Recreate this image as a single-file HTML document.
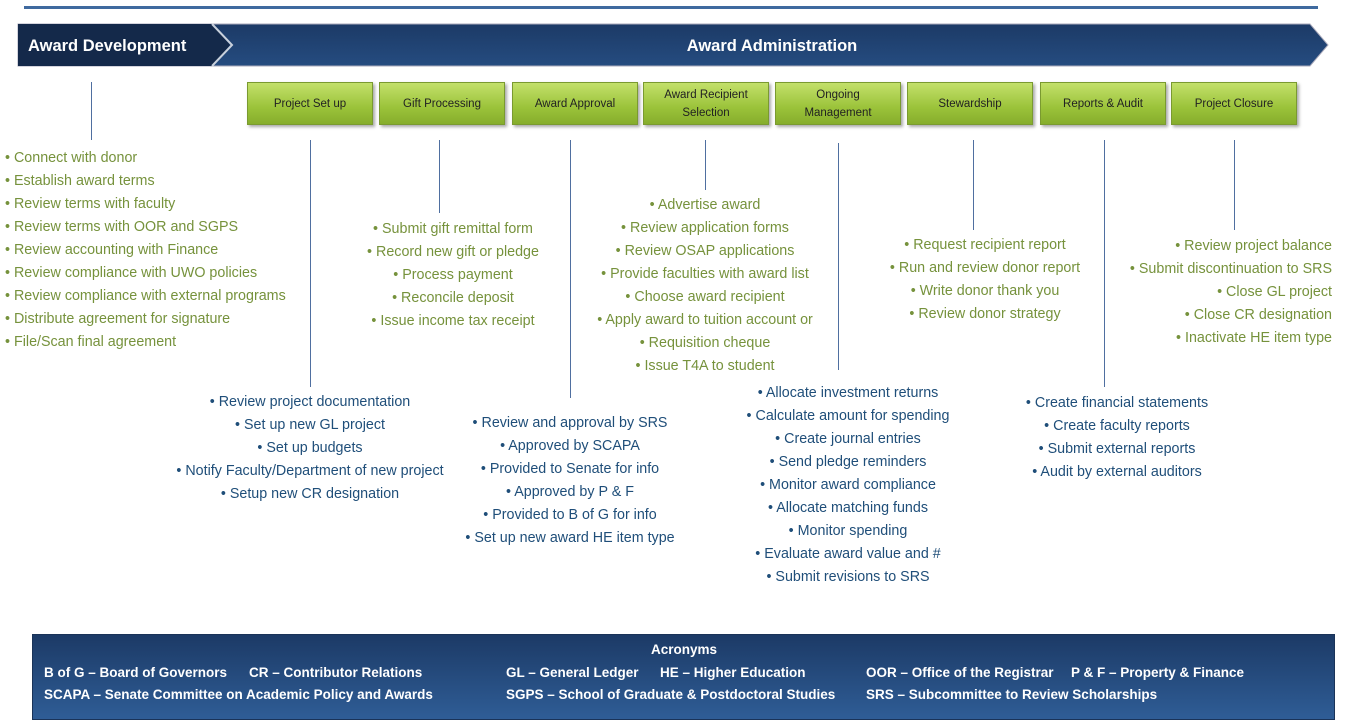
<!DOCTYPE html>
<html><head><meta charset="utf-8">
<style>
body{margin:0;width:1352px;height:727px;background:#fff;position:relative;overflow:hidden;font-family:"Liberation Sans",sans-serif}
.a{position:absolute}
.l{position:absolute;font-size:14.3px;line-height:23px;white-space:nowrap}
.g{color:#76923c}.b{color:#1f4e79}
.c{text-align:center;width:380px}
.box{position:absolute;top:82px;width:124px;height:41px;background:linear-gradient(#c3e06a,#9bc33a 60%,#86ad2c);border:1px solid #7a9a30;box-shadow:2px 2px 3px rgba(0,0,0,.35);font-size:11.5px;color:#222;display:flex;align-items:center;justify-content:center;text-align:center;line-height:18px}
.v{position:absolute;width:1px;background:#4f6fa0}
.ft{position:absolute;color:#fff;font-weight:bold;font-size:13.5px;white-space:nowrap}
</style></head><body>
<div class="a" style="left:24px;top:6px;width:1294px;height:3px;background:#3f6a9f"></div>
<svg class="a" style="left:0;top:0" width="1352" height="80">
<defs><linearGradient id="h" x1="0" y1="0" x2="0" y2="1"><stop offset="0" stop-color="#1c3a66"/><stop offset="1" stop-color="#254c80"/></linearGradient></defs>
<polygon points="18,24 1310,24 1328,45 1310,66 18,66" fill="url(#h)" stroke="#aab" stroke-width="1"/>
<polygon points="18,24 212,24 230,45 212,66 18,66" fill="#14294a"/>
<polyline points="212,24 232,45 212,66" fill="none" stroke="#c8d0dc" stroke-width="2"/>
<text x="28" y="51" fill="#fff" font-weight="bold" font-size="16.5" font-family="Liberation Sans">Award Development</text>
<text x="772" y="51" fill="#fff" font-weight="bold" font-size="16.5" text-anchor="middle" font-family="Liberation Sans">Award Administration</text>
</svg>
<div class="box" style="left:247px">Project Set up</div>
<div class="box" style="left:379px">Gift Processing</div>
<div class="box" style="left:512px">Award Approval</div>
<div class="box" style="left:643px">Award Recipient<br>Selection</div>
<div class="box" style="left:775px">Ongoing<br>Management</div>
<div class="box" style="left:907px">Stewardship</div>
<div class="box" style="left:1040px">Reports &amp; Audit</div>
<div class="box" style="left:1171px">Project Closure</div>

<div class="v" style="left:91px;top:82px;height:58px"></div>
<div class="v" style="left:310px;top:140px;height:247px"></div>
<div class="v" style="left:439px;top:140px;height:73px"></div>
<div class="v" style="left:570px;top:140px;height:258px"></div>
<div class="v" style="left:705px;top:140px;height:50px"></div>
<div class="v" style="left:838px;top:143px;height:227px"></div>
<div class="v" style="left:973px;top:140px;height:90px"></div>
<div class="v" style="left:1104px;top:140px;height:247px"></div>
<div class="v" style="left:1234px;top:140px;height:90px"></div>

<div class="l g" style="left:5px;top:147px">•  Connect with donor<br>•  Establish award terms<br>•  Review terms with faculty<br>•  Review terms with OOR and SGPS<br>•  Review accounting with Finance<br>•  Review compliance with UWO policies<br>•  Review compliance with external programs<br>•  Distribute agreement for signature<br>•  File/Scan final agreement</div>
<div class="l g c" style="left:263px;top:218px">• Submit gift remittal form<br>• Record new gift or pledge<br>• Process payment<br>• Reconcile deposit<br>• Issue income tax receipt</div>
<div class="l g c" style="left:515px;top:194px">• Advertise award<br>• Review application forms<br>• Review OSAP applications<br>• Provide faculties with award list<br>• Choose award recipient<br>• Apply award to tuition account or<br>• Requisition cheque<br>• Issue T4A to student</div>
<div class="l g c" style="left:795px;top:234px">• Request recipient report<br>• Run and review donor report<br>• Write donor thank you<br>• Review donor strategy</div>
<div class="l g" style="left:952px;top:235px;width:380px;text-align:right">• Review project balance<br>• Submit discontinuation to SRS<br>• Close GL project<br>• Close CR designation<br>• Inactivate HE item type</div>
<div class="l b c" style="left:120px;top:391px">• Review project documentation<br>• Set up new GL project<br>• Set up budgets<br>• Notify Faculty/Department of new project<br>• Setup new CR designation</div>
<div class="l b c" style="left:380px;top:412px">• Review and approval by SRS<br>• Approved by SCAPA<br>• Provided to Senate for info<br>• Approved by P &amp; F<br>• Provided to B of G for info<br>• Set up new award HE item type</div>
<div class="l b c" style="left:658px;top:382px">• Allocate investment returns<br>• Calculate amount for spending<br>• Create journal entries<br>• Send pledge reminders<br>• Monitor award compliance<br>• Allocate matching funds<br>• Monitor spending<br>• Evaluate award value and #<br>• Submit revisions to SRS</div>
<div class="l b c" style="left:927px;top:392px">• Create financial statements<br>• Create faculty reports<br>• Submit external reports<br>• Audit by external auditors</div>

<div class="a" style="left:32px;top:634px;width:1301px;height:84px;background:linear-gradient(#1c3a66,#2f5d96);border:1px solid #1a3358"></div>
<div class="ft" style="left:651px;top:642px">Acronyms</div>
<div class="ft" style="left:44px;top:665px">B of G – Board of Governors</div>
<div class="ft" style="left:249px;top:665px">CR – Contributor Relations</div>
<div class="ft" style="left:506px;top:665px">GL – General Ledger</div>
<div class="ft" style="left:660px;top:665px">HE – Higher Education</div>
<div class="ft" style="left:866px;top:665px">OOR – Office of the Registrar</div>
<div class="ft" style="left:1071px;top:665px">P &amp; F – Property &amp; Finance</div>
<div class="ft" style="left:44px;top:687px">SCAPA – Senate Committee on Academic Policy and Awards</div>
<div class="ft" style="left:506px;top:687px">SGPS – School of Graduate &amp; Postdoctoral Studies</div>
<div class="ft" style="left:866px;top:687px">SRS – Subcommittee to Review Scholarships</div>
</body></html>
